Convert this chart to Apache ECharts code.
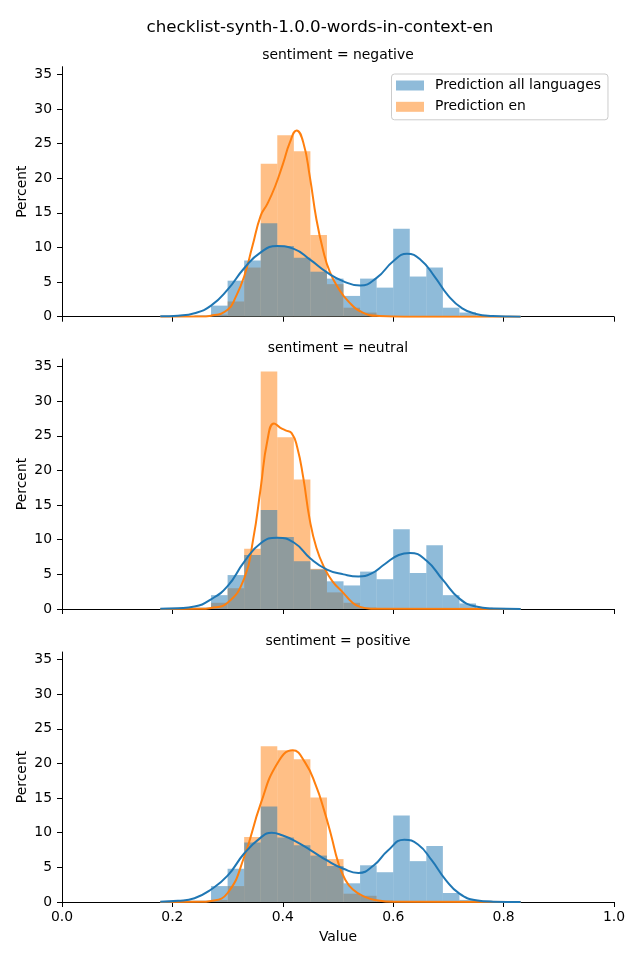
<!DOCTYPE html>
<html>
<head>
<meta charset="utf-8">
<script src="https://cdn.jsdelivr.net/npm/echarts@6/dist/echarts.min.js"></script>
<style>
html,body{margin:0;padding:0;background:#fff;}
#chart{width:640px;height:960px;}
</style>
</head>
<body>
<div id="chart"></div>
<script>
// ---------------- data ----------------
const suptitle = 'checklist-synth-1.0.0-words-in-context-en';
const panelTitles = ['sentiment = negative', 'sentiment = neutral', 'sentiment = positive'];
const seriesNames = ['Prediction all languages', 'Prediction en'];
const xTicks = [0, 0.2, 0.4, 0.6, 0.8, 1.0];
const yTicks = [0, 5, 10, 15, 20, 25, 30, 35];

// histogram bin edges (shared)
const binEdges = [0.18,0.21,0.24,0.27,0.30,0.33,0.36,0.39,0.42,0.45,0.48,0.51,0.54,0.57,0.60,0.63,0.66,0.69,0.72,0.75,0.78,0.81,0.83];

// percent per bin
const negAll = [0.1,0.1,0.2,1.6,5.2,8.1,13.5,10.2,8.5,6.5,5.5,3.0,5.5,4.2,12.7,5.8,7.1,1.3,0.6,0.2,0.1,0.1];
const negEn  = [0,0,0.1,0.3,2.2,7.1,22.1,26.2,23.9,11.8,4.7,1.3,0.6,0.1,0,0,0,0,0,0,0,0];
const neuAll = [0.1,0.1,0.2,2.0,4.9,7.8,14.3,10.4,6.9,5.7,4.0,3.4,5.4,4.3,11.5,5.2,9.2,2.0,0.8,0.2,0.1,0.1];
const neuEn  = [0,0,0.1,0.9,3.0,8.7,34.3,24.8,18.7,5.8,2.4,0.9,0.2,0,0,0,0,0,0,0,0,0];
const posAll = [0.1,0.2,0.2,2.3,4.8,8.6,13.8,9.3,8.2,6.7,5.2,2.7,5.3,4.3,12.5,5.9,8.1,1.3,0.3,0.2,0.1,0.1];
const posEn  = [0,0,0.1,0.3,2.3,9.4,22.5,21.9,20.6,15.1,6.2,1.2,0.9,0.2,0,0,0,0,0,0,0,0];

// KDE curves: [x, percent]
const negAllKde = [[0.178,0.05],[0.21,0.15],[0.24,0.5],[0.27,1.6],[0.30,3.9],[0.33,7.0],[0.36,9.3],[0.39,10.2],[0.42,9.8],[0.45,8.2],[0.48,6.4],[0.51,5.1],[0.54,4.5],[0.57,5.6],[0.60,8.0],[0.625,9.1],[0.65,8.2],[0.675,5.8],[0.70,3.0],[0.725,1.2],[0.75,0.4],[0.78,0.1],[0.81,0.02],[0.831,0.01]];
const negEnKde  = [[0.178,0],[0.25,0.02],[0.27,0.15],[0.30,1.0],[0.315,2.9],[0.33,5.8],[0.345,10.2],[0.36,14.6],[0.372,16.3],[0.386,18.8],[0.40,22.0],[0.413,25.2],[0.425,26.9],[0.437,25.2],[0.449,20.2],[0.461,14.0],[0.473,9.6],[0.485,6.5],[0.50,4.2],[0.52,2.1],[0.545,0.6],[0.575,0.1],[0.62,0],[0.831,0]];
const neuAllKde = [[0.178,0.05],[0.21,0.12],[0.24,0.35],[0.27,1.4],[0.30,3.3],[0.33,6.8],[0.36,9.5],[0.39,10.3],[0.42,9.6],[0.45,7.3],[0.48,5.7],[0.51,5.0],[0.537,4.7],[0.56,5.1],[0.585,6.5],[0.61,7.8],[0.63,8.1],[0.66,7.0],[0.69,4.2],[0.72,1.5],[0.75,0.35],[0.78,0.07],[0.831,0.01]];
const neuEnKde  = [[0.178,0],[0.25,0.02],[0.27,0.15],[0.30,0.9],[0.33,4.4],[0.346,9.9],[0.36,17.5],[0.372,24.3],[0.384,26.8],[0.395,26.2],[0.405,25.8],[0.416,25.4],[0.426,23.4],[0.437,19.0],[0.449,12.8],[0.461,8.8],[0.475,6.0],[0.49,4.0],[0.51,2.3],[0.525,1.0],[0.54,0.3],[0.56,0.05],[0.831,0]];
const posAllKde = [[0.178,0.05],[0.21,0.17],[0.24,0.55],[0.27,1.8],[0.30,3.8],[0.33,7.0],[0.36,9.3],[0.38,10.0],[0.40,9.6],[0.42,8.9],[0.45,7.5],[0.48,6.0],[0.51,4.8],[0.537,4.2],[0.565,5.3],[0.59,7.4],[0.62,9.0],[0.645,8.3],[0.67,6.0],[0.695,3.2],[0.72,1.2],[0.75,0.25],[0.78,0.05],[0.831,0.01]];
const posEnKde  = [[0.178,0],[0.25,0.02],[0.27,0.15],[0.30,1.3],[0.33,6.5],[0.36,14.2],[0.39,20.0],[0.418,21.9],[0.44,20.2],[0.46,16.8],[0.475,13.2],[0.488,9.5],[0.50,5.8],[0.512,3.4],[0.527,1.8],[0.55,0.7],[0.57,0.25],[0.60,0.03],[0.831,0]];

// ---------------- chart ----------------
const FONT = 'DejaVu Sans';
const C0 = '#1f77b4', C1 = '#ff7f0e';
const panels = [
  {all: negAll, en: negEn, allKde: negAllKde, enKde: negEnKde},
  {all: neuAll, en: neuEn, allKde: neuAllKde, enKde: neuEnKde},
  {all: posAll, en: posEn, allKde: posAllKde, enKde: posEnKde}
];
const gridTops = [66.7, 359, 652];
const gridH = 250;

function histSeries(name, vals, color, gi) {
  return {
    type: 'custom', name: name, xAxisIndex: gi, yAxisIndex: gi,
    itemStyle: {color: color, opacity: 0.5},
    data: vals.map((v, i) => [binEdges[i], binEdges[i + 1], v]),
    encode: {x: [0, 1], y: 2},
    renderItem: function (params, api) {
      const p0 = api.coord([api.value(0), api.value(2)]);
      const p1 = api.coord([api.value(1), 0]);
      return {
        type: 'rect',
        shape: {x: p0[0], y: p0[1], width: p1[0] - p0[0], height: p1[1] - p0[1]},
        style: {fill: color, opacity: 0.5}
      };
    },
    silent: true
  };
}
function kdeSeries(name, pts, color, gi) {
  return {
    type: 'line', name: name, xAxisIndex: gi, yAxisIndex: gi,
    data: pts, showSymbol: false, smooth: 0.5,
    lineStyle: {color: color, width: 2}, itemStyle: {color: color},
    silent: true, z: 3
  };
}

const grid = [], xAxis = [], yAxis = [], series = [], title = [];
title.push({text: suptitle, left: 320, top: 19.5, textAlign: 'center', padding: 0,
  textStyle: {fontFamily: FONT, fontSize: 16.7, fontWeight: 'normal', color: '#000'}});
panels.forEach((p, gi) => {
  grid.push({left: 62, right: 26, top: gridTops[gi], height: gridH, containLabel: false});
  title.push({text: panelTitles[gi], left: 338, top: gridTops[gi] - 18, textAlign: 'center', padding: 0,
    textStyle: {fontFamily: FONT, fontSize: 13.9, fontWeight: 'normal', color: '#000'}});
  const last = gi === panels.length - 1;
  xAxis.push({
    type: 'value', gridIndex: gi, min: 0, max: 1, interval: 0.2,
    splitLine: {show: false},
    axisLine: {show: true, onZero: false, lineStyle: {color: '#000', width: 1}},
    axisTick: {show: true, length: 5, lineStyle: {color: '#000', width: 1}, customValues: xTicks},
    axisLabel: {show: last, margin: 8, customValues: xTicks, color: '#000', fontFamily: FONT, fontSize: 13.9,
      formatter: v => Number(v).toFixed(1), hideOverlap: false},
    name: last ? 'Value' : '', nameLocation: 'middle', nameGap: 28, nameMoveOverlap: false,
    nameTextStyle: {fontFamily: FONT, fontSize: 13.9, color: '#000'}
  });
  yAxis.push({
    type: 'value', gridIndex: gi, min: 0, max: 36.1, interval: 5,
    splitLine: {show: false},
    axisLine: {show: true, lineStyle: {color: '#000', width: 1}},
    axisTick: {show: true, length: 5, lineStyle: {color: '#000', width: 1}, customValues: yTicks},
    axisLabel: {margin: 10, customValues: yTicks, color: '#000', fontFamily: FONT, fontSize: 13.9},
    name: 'Percent', nameLocation: 'middle', nameGap: 33, nameMoveOverlap: false,
    nameTextStyle: {fontFamily: FONT, fontSize: 13.9, color: '#000'}
  });
  series.push(histSeries(seriesNames[1], p.en, C1, gi));
  series.push(histSeries(seriesNames[0], p.all, C0, gi));
  series.push(kdeSeries('kde en ' + gi, p.enKde, C1, gi));
  series.push(kdeSeries('kde all ' + gi, p.allKde, C0, gi));
});

const option = {
  animation: false,
  backgroundColor: '#fff',
  title: title,
  legend: {
    data: [
      {name: seriesNames[0], itemStyle: {color: '#8fbbd9', opacity: 1}},
      {name: seriesNames[1], itemStyle: {color: '#ffbf86', opacity: 1}}
    ],
    orient: 'vertical', left: 391.5, top: 74,
    padding: [4.5, 7, 6, 4.5],
    itemWidth: 28, itemHeight: 10, itemGap: 7.3,
    icon: 'rect',
    backgroundColor: 'rgba(255,255,255,0.8)',
    borderColor: '#cccccc', borderWidth: 1, borderRadius: 3,
    selectedMode: false,
    textStyle: {fontFamily: FONT, fontSize: 13.9, color: '#000', lineHeight: 14, padding: [0, 0, 0, 6]}
  },
  grid: grid, xAxis: xAxis, yAxis: yAxis, series: series
};
const chart = echarts.init(document.getElementById('chart'), null, {renderer: 'canvas'});
chart.setOption(option);
</script>
</body>
</html>
